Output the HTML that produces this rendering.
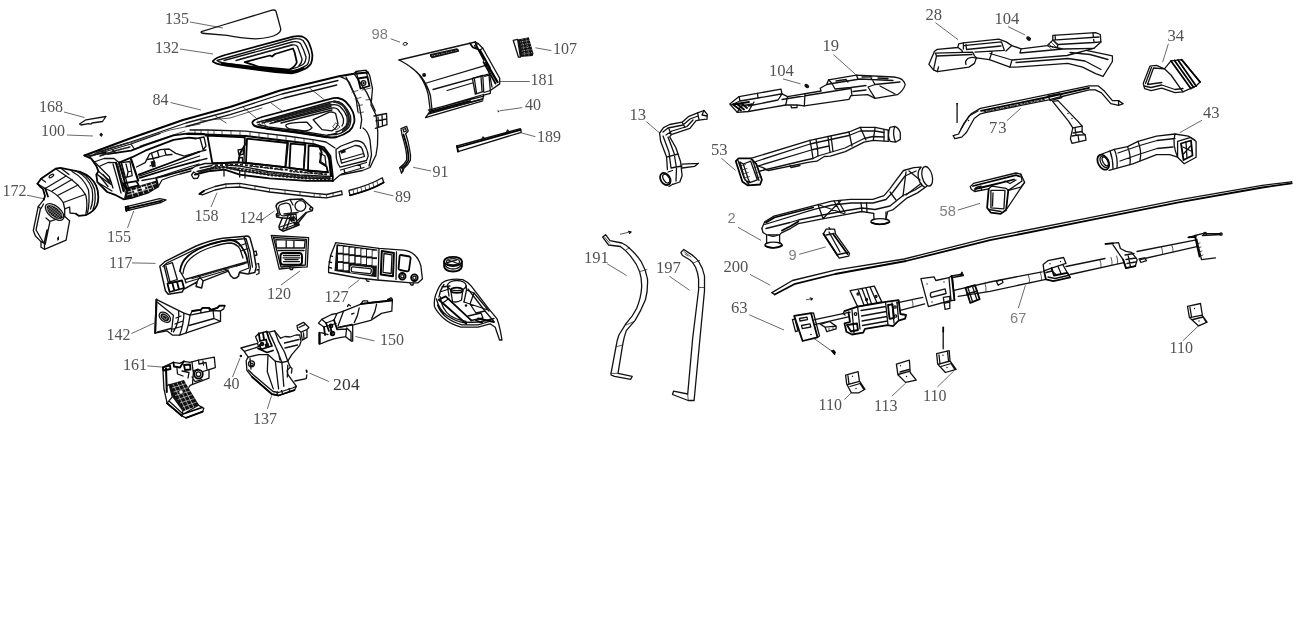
<!DOCTYPE html>
<html><head><meta charset="utf-8">
<style>
html,body{margin:0;padding:0;background:#fff;}
body{width:1307px;height:644px;overflow:hidden;font-family:"Liberation Serif",serif;}
svg{position:absolute;left:0;top:0;display:block;will-change:transform;opacity:.999;filter:blur(.35px)}
.t{font-family:"Liberation Serif",serif;font-size:16px;fill:#525252;stroke:none}
.s{font-family:"Liberation Sans",sans-serif;font-size:14.7px;fill:#808080;stroke:none}
.t2{font-family:"Liberation Serif",serif;font-size:16.6px;fill:#525252;stroke:none}
.l{stroke:#444;stroke-width:0.8;fill:none}
.p{stroke:#111;stroke-width:1.3;fill:none;stroke-linejoin:round;stroke-linecap:round}
.pt{stroke:#222;stroke-width:0.75;fill:none;stroke-linejoin:round;stroke-linecap:round}
.pb{stroke:#000;stroke-width:1.8;fill:none;stroke-linejoin:round;stroke-linecap:round}
.f{fill:#111;stroke:none}
</style></head><body>
<svg width="1307" height="644" viewBox="0 0 1307 644">
<!--LABELS-->
<g id="labels">

<text class="t2" x="822.5" y="50.5">19</text><path class="l" d="M833.5,54.6 L855.7,74.5"/>

<text class="s" x="1010" y="323">67</text><path class="l" d="M1018.3,308.2 L1025.4,285.4"/>
<text class="t" x="818.5" y="409.7">110</text><path class="l" d="M844.4,399.6 L851.3,392.8"/>
<text class="t" x="874" y="410.7">113</text><path class="l" d="M891.8,396.2 L905.6,383.2"/>
<text class="t" x="923" y="400.5">110</text><path class="l" d="M937.4,387 L953.8,371"/>
<text class="t" x="1169.5" y="352.9">110</text><path class="l" d="M1182.8,340.8 L1199.5,324.9"/>

<text class="t2" x="925.5" y="19.6">28</text><path class="l" d="M935.4,22.7 L958.1,39.7"/>
<text class="t2" x="994.5" y="23.7">104</text><path class="l" d="M1008,26.6 L1025.2,35"/>
<text class="t2" x="989" y="133.2" style="letter-spacing:1px">73</text><path class="l" d="M1006.8,120.8 L1020.7,108.4"/>
<text class="t2" x="1167.5" y="40.6">34</text><path class="l" d="M1168.4,43.7 L1162.6,62.2"/>
<text class="t2" x="1203" y="118.4">43</text><path class="l" d="M1201.9,120.3 L1179.7,132.7"/>

<text class="t2" x="584" y="263">191</text><path class="l" d="M607.2,263.8 L626.6,275.5"/>
<text class="t2" x="656" y="273.4">197</text><path class="l" d="M669.3,276.2 L689.5,290.2"/>
<text class="t2" x="723.5" y="272.4">200</text><path class="l" d="M750,274.4 L770.2,285.2"/>
<text class="t2" x="731" y="313.2">63</text><path class="l" d="M749.3,314.8 L784,330"/>
<text class="s" x="727.5" y="223">2</text><path class="l" d="M738,227.3 L761,240.4"/>
<text class="s" x="788.5" y="260">9</text><path class="l" d="M799.2,254.3 L825.8,246.9"/>
<text class="s" x="939.5" y="216">58</text><path class="l" d="M957.7,210.2 L980,203.3"/>
<text class="t2" x="769" y="75.7">104</text><path class="l" d="M783,78.9 L800.6,83.9"/>
<text class="t2" x="711" y="155.3">53</text><path class="l" d="M721.5,158.3 L735.6,170.5"/>
<text class="t2" x="629.5" y="120.3">13</text><path class="l" d="M646.4,121.7 L659.6,133"/>

<text class="t" x="106.5" y="340.3">142</text><path class="l" d="M131.4,333.6 L154.1,323.1"/>
<text class="t" x="123" y="370.3">161</text><path class="l" d="M147.2,365.9 L162.9,367.1"/>
<text class="t" x="223.5" y="388.5">40</text><path class="l" d="M232.5,377 L240,358.1"/>
<text class="t" x="333" y="389.6" style="fill:#333;font-size:17.5px;letter-spacing:.3px">204</text><path class="l" d="M309.5,373.1 L328.9,381.5"/>
<text class="t" x="253" y="423.6">137</text><path class="l" d="M267.3,409 L271.6,395.4"/>

<text class="t" x="324.5" y="302">127</text><path class="l" d="M348.2,288.4 L359.4,279.6"/>
<text class="t" x="380" y="344.9">150</text><path class="l" d="M355.4,336.5 L374.5,340.9"/>

<text class="s" x="371.5" y="39.4">98</text><path class="l" d="M390.7,38.8 L400,42.2"/>
<text class="t" x="553" y="54.4">107</text><path class="l" d="M535.4,47.8 L551.4,50.6"/>
<text class="t" x="530.5" y="84.5">181</text><path class="l" d="M499.7,81.5 L529.8,81.5"/>
<text class="t" x="525" y="109.8">40</text><path class="l" d="M499.7,110.8 L522.3,107.6"/>
<text class="t" x="537" y="142.3">189</text><path class="l" d="M521.3,132.9 L535.4,136.7"/>
<text class="t" x="432.5" y="177">91</text><path class="l" d="M413.2,167.3 L431.1,171"/>
<text class="t" x="395" y="202">89</text><path class="l" d="M373.8,191.2 L393.5,195.9"/>

<text class="t" x="165" y="23.5">135</text><path class="l" d="M190,22 L223,28"/>
<text class="t" x="155" y="52.5">132</text><path class="l" d="M180,49 L213,54"/>
<text class="t" x="152.5" y="104.5">84</text><path class="l" d="M170.5,102.5 L201,110"/>
<text class="t" x="39" y="112">168</text><path class="l" d="M64,112 L84.5,117.5"/>
<text class="t" x="41" y="136">100</text><path class="l" d="M67,135 L93,136"/>
<text class="t" x="2.5" y="196">172</text><path class="l" d="M27,195.2 L45,199"/>
<text class="t" x="107" y="242">155</text><path class="l" d="M127.5,228 L133.7,211"/>
<text class="t" x="194.5" y="221">158</text><path class="l" d="M211,207 L217,192.7"/>
<text class="t" x="239.5" y="223">124</text><path class="l" d="M263,219 L274.5,211"/>
<text class="t" x="109" y="268">117</text><path class="l" d="M132,262.9 L155.5,263.4"/>
<text class="t" x="267" y="298.5">120</text><path class="l" d="M281,285 L300,271"/>
</g>
<!--PARTS-->

<g id="p135"><path class="p" d="M201.4,31.7 L219.8,26 L272,10.2 Q275,9.6 275.9,11 L280.7,28.6 Q281,32 277,34.2 Q271,38 255.8,38.8 Q240,38 227.3,35.4 L204.9,33.5 Q200,33 201.4,31.7Z"/></g>
<g id="p132">
<path class="pb" d="M213,60.9 Q215,58 225,55 L293,36.6 Q298,35.6 302,36.5 Q307,38.5 309,43 Q312,50 312.4,55 Q312.5,60 311,63.4 Q308,68 301.8,70.2 Q296,73 291.9,73.3 Q275,72.5 259.6,70.2 L227.3,65.8 Q218,64.5 214.8,62.7 Q212.5,62 213,60.9Z"/>
<path class="p" d="M217,60.5 L293,39 Q300,38 303,40.5 Q307,46 309.5,55 Q309.5,62 307,65 Q301,69 292,71 L227,63.5 Q219,62.5 217,60.5Z"/>
<path class="p" d="M224,60.5 L292,42 Q298,41 300.5,43.5 Q304,50 306,57 Q306,62 303,64.5 Q298,67.5 291,69"/>
<path class="p" d="M236,60.5 L292,45 Q296,44.5 297.5,46.5 Q300,53 302,59 Q302,63 299,65.5"/>
<path class="pb" d="M244.7,62.1 L270,55.5 L272,56.5 L275,54 L293,48.5 L294.5,52 L296.8,62.1 Q296,66 289.4,69.6 L259.6,67 Z"/>
<path class="pb" style="stroke-width:2.6" d="M222,63.5 L259.6,68.6 Q278,71.5 291.9,72 Q298,71 303,68"/>
<path class="pt" style="stroke-dasharray:1.5 1" d="M240,59 L292,44.5"/>
</g>
<g id="p168"><path class="p" d="M79.5,124 L86,119.8 L106,116.5 L102.5,121.5 L92,123 L91,124.2 L88.5,123.6 L81,125Z"/></g>
<g id="p100"><path class="f" d="M101,132.5 L103,134.5 L101.5,137 L99.3,135Z"/></g>

<g id="p84">
<!-- top edge thick -->
<path class="pb" style="stroke-width:2" d="M84.5,155.5 L130,138.5 L183,120 L230,107 L280,90.5 L339,76.2 L354,73.7 L368,72.4"/>
<path class="p" d="M368,72.4 L369.7,75.5 L372.5,88.7 L371,105 L376,115 L377.8,132 L377.5,145 L376,155 L370,167.5 L362.5,170.5 L340,175 L333,181"/>
<path class="p" d="M339,76.2 Q347,79 349.3,82.4 L359.2,104.8 L361.7,119.7 L360.4,128.4"/>
<path class="p" d="M354,73.7 L366.6,92.4 L375.3,111"/>
<path class="p" d="M346,77 L356,98 L358,112"/>
<!-- top surface strips -->
<path class="p" d="M95,153.5 L135,140.5 L186,123 L230,111 L282,94 L338,80.5"/>
<path class="p" d="M186,126.5 L230,114.7 L284,98 L336.8,85"/>
<path class="pt" d="M200,121 L230,118 L262,108 M271,103 L282,111 M309.5,88 L324.4,99.8 M243,107 L256,118 M215,115.5 L226,123"/>
<path class="pt" d="M130,143 L170,130 L200,124 M140,146 L185,131"/>
<!-- right bracket top -->
<path class="pb" d="M358,78.5 L367.5,77 L369.5,86 L360.5,88.5Z"/><path class="p" d="M354,73.7 L356,71.5 L366,70.2 L368,72.4 M356,71.5 L358,78.5 M366,70.2 L367.5,77"/>
<circle class="p" cx="363.5" cy="83" r="2.3"/><circle class="f" cx="363.5" cy="83" r="1.2"/>
<path class="p" d="M374,116 L386.5,113.5 L387,124.7 L375.3,128.4 M378,117 L378.5,126 M382,115.5 L382.5,125.5 M376,121 L386.5,119"/>
<path class="pt" d="M362,90 L371,88 M366,100 L372,99 M352,92 L358,90.5 M355,99 L361,97.5 M357,106 L362.5,104.8 M358.5,113 L363.5,112"/>
<!-- vent recess on top -->
<path class="pb" d="M252.4,122.2 Q253,120 262,117 L329.4,99.2 Q335,97.5 338,98 Q343,99 345.5,101.5 Q351,107 353,112.2 Q355,118 354.2,122.2 Q353,127.5 349.3,131 Q344,135 336.8,137 Q332,138 327,137 L299.6,132.5 L267.3,128.4 Q257,127.5 254.8,126 Q252,124 252.4,122.2Z"/>
<path class="p" d="M257,122.5 L330,102 Q338,100.5 342,103.5 Q348,109 350.5,116 Q351.5,122 349,127 Q345,132 337,134.5 L328,134.8"/>
<path class="p" d="M262,123 L331,105 Q337,104 340,106.5 Q345,111 347,117 Q348,122 346,126 Q342,130.5 336,132"/>
<path class="p" d="M270,123.5 L332,108 Q336,107.5 338,109.5 Q342,114 343.5,119 Q344,123 342,126"/>
<path class="pt" style="stroke-dasharray:1.2 1.2;stroke-width:2.4" d="M334,101.5 Q342,103 345,108 Q349,114 349,121 Q348,127 343,131"/>
<path class="p" d="M286,124.7 Q290,122.5 307,122.2 L312,127.8 Q310,130.5 304.5,131 L289.6,129 Q285,127 286,124.7Z"/>
<path class="p" d="M313.2,119.7 L329.4,112.2 Q333,111.5 335.6,113.5 L338,123.4 Q337,128 331.9,130.9 L322,129.6 Z"/>
<path class="p" d="M266,121 L330,103.5 M275,121.5 L331,106.5 M281,123 L332,110 M258,124.5 L268,127 L300,131 L327,135.3 L337,133.2"/>
<path class="pt" style="stroke-width:1.8;stroke-dasharray:1.4 1.4" d="M268,121.5 L331,104.5"/>
<path class="pb" d="M254,125.5 L267.3,128.8 L299.6,133 L327,137.4"/>
<path class="pt" d="M262,120 L266,126 M258,121 L262,127 M336,123 L340,127 L336,130 L333,127Z"/>
<!-- front face top rail -->
<path class="p" d="M190,130 L207,130 L246,131.2 L287,136 L314.2,139.9 L326,142 L335,148"/>
<path class="pb" d="M187,134 L206,134.3 L246,136 L287,141 L314.2,144.2 L324,147.3 L330.4,156 L332.9,177 L332.5,181"/>
<path class="pt" d="M195,130 V134 M201,130 V134 M208,130 V134.5 M214,130.3 V134.7 M222,130.5 V135 M231,130.8 V135.3 M240,131 V135.8 M250,131.7 V136.5 M259,132.8 V137.5 M268,133.8 V138.6 M277,134.9 V139.7 M286,136 V140.8 M295,137.3 V142 M304,138.5 V143 M313,139.8 V144"/>
<!-- openings -->
<path class="pb" d="M207.4,135.5 L244.7,137.4 L245,144.8 L240,153.5 L238.4,162.2 L212.4,163.5 Z"/>
<path class="pb" d="M247,138.6 L288,143 L285.6,167.2 L246,162.9 Z"/>
<path class="pb" d="M290.6,143.6 L305.5,144.8 L303.7,169.7 L289.4,167.8 Z"/>
<path class="pb" d="M308.6,145.5 L319.2,146.7 L321.7,152.3 L319.8,162.2 L326.6,166.6 L327.9,172.2 L308,171 Z"/>
<path class="p" d="M238,150 L243,149 L243.5,154 L239,155 Z M238.5,158 L242.5,157.5 L242.5,163 M244.7,137.4 L244,163 M287,143 L285,167 M305,145 L303.5,169.5"/>
<path class="pb" style="stroke-width:2.4" d="M321,148 Q328,152 329.5,160 L331,176"/>
<path class="p" d="M320,153 L325,156 L326,165 L321,162Z"/>
<!-- bottom rail -->
<path class="pb" d="M212.4,163.5 L238.4,162.4 L246,163 L285.6,167.4 L303.7,169.9 L327.9,172.4"/>
<path class="pb" d="M195,174.7 L210,171 L224.8,169.7 L239.7,174.7 L269.5,178.4 L306.8,180.9 L332.9,180.9"/>
<path class="p" d="M200,168 L212,165.5 M197,171.5 L214,167.5 M226,165 L240,166 L268,171.5 L300,175 L330,176.5 M228,168 L240,170.5 L270,174.8 L305,178 L331,178.8"/>
<path class="pt" style="stroke-width:1.4;stroke-dasharray:2 1.5" d="M214,166.5 L240,168.3 L270,173 L305,176.5 L330,177.7"/>
<path class="pt" style="stroke-width:1.4;stroke-dasharray:1.5 2" d="M199,172.5 L212,169 L226,167 M250,166 L284,170 M290,171.5 L326,174.5"/>
<path style="stroke:#1a1a1a;stroke-width:2.6;stroke-dasharray:2.2 1.6;fill:none" d="M200,172 L212,168 L226,167.2 L240,170 L270,174.8 L305,178.2 L330,178.9"/>
<path style="stroke:#1a1a1a;stroke-width:1.8;stroke-dasharray:3 2;fill:none" d="M215,165.3 L238,164.5 L246,165.2 L285,169.6 L304,172 L327,174.3"/>
<path class="p" d="M193.7,172 L191.5,175 L193.5,178.5 L197.5,178.4 L199,175.5 Z M224,170 V176 M239.7,171 V177 M245,172 V178"/>
<!-- right lower pocket -->
<path class="p" d="M336,149.5 L341,146 L354.7,140.8 Q361,140.3 364,144 Q367.5,149 368.2,156 L366.5,160.5 L340,167.2 Q337,163 336.3,158 Z"/>
<path class="p" d="M339,151.8 L355,145.5 Q360,145.3 362,148.5 L364.5,156.5 L341.5,163.2 Z M341,160 L363.5,153.5"/>
<path class="f" d="M340,150.8 L345,148.8 L345.8,152.3 L341,153.8Z"/>
<path class="p" d="M340.5,170 L366.5,162.5 M341.5,174 L364,167.5 M344,169.2 L344.8,173 M360,164.6 L360.8,168.3"/>
<path class="p" d="M363,128 Q368,131 370,140 L371.5,155 L369,166"/>
<!-- left end -->
<path class="pb" d="M84.3,155.5 L90.9,158.3 L96.3,165.9 L98.5,171.3 L96.3,174.6 L97.4,182.2 L107.2,192 L115.9,195.2 L123.5,199.3 L133,197.5 L147.4,193 L158.3,186.5 L156.1,177.8 L168,175 L191.8,168.4"/>
<path class="pb" style="stroke-width:1.8" d="M98.5,150.5 L108.3,153.9 L131.1,150.7 L145.2,145.2 L173.5,135.4 L188.7,133.3 L204,133.8"/>
<path class="pb" style="stroke-width:1.8" d="M119.1,162.6 L132.2,157.2 L145.2,150.7 L173.5,139.8 L188.7,137.6 L196,138.5"/>
<path class="p" d="M86,156.5 L100,153.5 L108.3,153.9 M90.9,158.3 L109.3,176.7 L113,188 M98.5,171.3 L111.5,182.2 M97.4,174.6 L111,184.5 M97.4,182.2 L112,191 M100,166 L108,162.5 L115.9,162.6 M94,162 L104,158.5 L114,158.5 L119.1,162.6"/>
<path class="p" d="M100,176.5 L108,186.5 M103,174.5 L110,183"/>
<!-- column band -->
<path class="pb" style="stroke-width:2" d="M115.9,162.6 L119.5,176 L123.5,191 M119.1,162.6 L123,176 L127,190"/>
<path class="p" d="M113,164 L117,178 L121,193 M121.5,163 L125,176 L129,189.5"/>
<path class="pt" style="stroke-width:1.5;stroke-dasharray:1.2 1.2" d="M117.5,164 L121,178 L125.2,192"/>
<!-- pillar -->
<path class="pb" style="stroke-width:2.2" d="M131.1,159.3 L134,168 L138.2,180.5"/>
<path class="p" d="M121.3,162.6 L130,161.5 L132.2,175.7 L124.6,177.8 Z M126,164 L128,172 L131.5,171 M128,172 L127,176.8"/>
<path class="pb" d="M123.5,183.3 L136.5,181.1 L138.7,185.4 L125.7,188.7 Z"/>
<!-- dense block -->
<path class="f" d="M126,189.3 L139,185.8 L156.5,180.5 L158.3,186.5 L147.4,193 L133,197.5 L124,198.5 Z"/>
<path d="M128,192 L156,183.5 M127,195 L152,188 M131,188.5 L133,197 M136,187 L138.5,195.5 M141,185.5 L144,194 M146,184 L149,192 M151,182.5 L154,189.5" stroke="#fff" stroke-width=".7" fill="none"/>
<rect x="141.5" y="186.8" width="3.5" height="3" fill="#fff" transform="rotate(-16 143 188)"/>
<rect x="134" y="190" width="3" height="2.6" fill="#fff" transform="rotate(-16 135 191)"/>
<!-- cross beam -->
<path class="pb" d="M138.7,174.6 L170,163 L199.6,151.7 M139.8,177.8 L170,168.5 L199.6,160.4"/>
<path class="p" d="M156.1,177.8 L188.7,167 L199,164 M139,176.2 L199.6,156 M142,180.5 L156.1,177.8"/>
<!-- window inner outline -->
<path class="p" d="M136.5,167 L145.2,162.6 L149.6,153.9 L160.4,149.6 L169.1,149 L175.7,153.4 L184.3,156.1 L199.6,151.7"/>
<path class="p" d="M151.5,153.2 L153,158.5 L159,157 L157.5,151 M159,157 L166,155 L164.5,149.5 M166,155 L172,154.5 M147,159.5 L153,158.5 L155,163 L150,166"/>
<path class="f" d="M150.5,161.5 L154.5,160.5 L156,166.5 L152,167.5Z"/>
<!-- tip details -->
<path class="pt" style="stroke-width:1.6;stroke-dasharray:1.5 1.2" d="M97,152.5 L112,147.5 L128,143 M100,156 L116,150.5 L130,147"/>
<path class="p" d="M90,156.5 L112,149.5 L131,144 L160,133.5 M131,144 L134,148.5 M112,149.5 L116,153"/>
<!-- junction to openings -->
<path class="p" d="M196,138.5 L204,137 L206,146 L203,150 M204,133.8 L206,136 L207.4,135.5 M200,138 L203,149 M191.8,168.4 L196,166 L205,163.5 L212,163.5 M199.6,151.7 L206,150 M199.6,160.4 L207,158.5"/>
<path class="p" d="M158.3,186.5 L162,180 L170,177 L180,174 L191,171"/>
</g>
<g id="p158">
<path class="p" d="M199.3,193.9 L204,190.5 L215,186.5 L226,184 L239.7,183.4 L269.5,188.3 L314.2,193.3 L326.6,194.5 L341.6,190.8 L342.2,194.5 L326.6,197.8 L314.2,197 L269.5,192 L239.7,187 L226,187.7 L215,190 L202.4,194.8 Z"/>
<path class="pt" d="M226,184 V187.7 M239.7,183.4 V187 M255,186 V189.6 M269.5,188.3 V192 M285,190 V193.8 M300,191.7 V195.4 M314.2,193.3 V197 M320,194 V197.4 M326.6,194.5 V197.8 M333,193 V196.6"/>
<path class="pb" d="M199.5,194 L204,191"/>
</g>

<g id="p172">
<path class="pb" d="M37.5,183.7 L41,178.8 L55.6,168.7 L60.5,167.9 L80,171.8 Q86,174 89.9,177.4 Q94,181 96.2,185.8 Q98.5,191 98.3,196.9 Q98.3,202 96.9,205.3 Q95,209 92.7,210.9 Q89,214 85.7,215.1 L78.7,215.8 L75.9,213.7"/>
<path class="p" d="M37.5,183.7 L45.2,188.5 L66.1,176 L55.6,168.7 M41,178.8 L45.5,182 M60.5,167.9 L69,174.5"/>
<ellipse class="p" cx="51.4" cy="176" rx="2.6" ry="1.1" transform="rotate(-32 51.4 176)"/>
<path class="p" d="M45.2,188.5 Q57,193 63.3,202.5 L64.7,208.8 L64.7,216.5 M66.1,176 Q78,183 85.7,194.8 Q88,204 85.7,215.1"/>
<path class="p" d="M63.3,202.5 L85,194.5 M64.7,208.8 L69.6,207 L70,213 L75.9,213.7 M52,191 L72,179.5 M57.5,195.5 L78,185"/>
<path class="p" d="M76,171 Q88,177 92,189 Q94,200 90.5,209 M72,171.5 Q84,178 88.5,190 Q90,202 87.5,213 M80,171.8 Q91,178.5 94.5,189 Q96.5,201 93,209.5"/>
<path class="p" d="M43.8,199.7 L38.2,206.7 L33.3,230.5 L35.4,236 L41,241.6 L41,247.2 L44.5,249.3 L66.1,240.2 L69.6,220.7 L64.7,216.5"/>
<path class="p" d="M40.5,208.5 L36,230 L44,243.5 L47,230 M50,221.4 L45.2,244.4 M50,221.4 L64.7,216.5 M50,221.4 L46,218 M41,241.6 L44.5,243.5 L44.5,249.3 M38.2,206.7 L41,208.5 L43.5,204"/>
<path class="pb" d="M37.5,183.7 Q40,187 43,189 L45,196 L43.8,199.7 M45.2,188.5 L48,196.5"/>
<path class="f" d="M57,238 L59,236 L59,239.5 L57.5,241Z"/>
<ellipse class="f" cx="54.6" cy="212" rx="9.6" ry="4.6" transform="rotate(40 54.6 212)"/>
<ellipse class="p" cx="54.6" cy="212" rx="11" ry="5.8" transform="rotate(40 54.6 212)"/>
<g transform="rotate(40 54.6 212)" stroke="#fff" stroke-width="0.3" fill="none"><path d="M46,210 H63 M46,212 H63 M46,214 H63 M48,208 V216 M50.2,208 V216 M52.4,207.5 V216.5 M54.6,207.5 V216.5 M56.8,207.5 V216.5 M59,208 V216 M61.2,208 V216"/></g>
</g>
<g id="p155">
<path class="p" d="M125.5,206.8 L159.7,198.6 L166,199.9 L161.1,202.5 L126.2,210.9 Z"/>
<path class="pb" d="M126,208.8 L162,200.6"/>
<path class="pb" style="stroke-width:2" d="M125.8,207 L126.4,210.7 M128,206.4 L128.6,210"/>
</g>

<g id="p117">
<path class="p" style="stroke-width:1.5" d="M159.8,266.2 L165.4,261.3 L196.1,246 Q210,240.5 222.7,238.3 L247.8,235.9 L249.9,237.6 L253.4,250.2 L256.2,266.9 L254.8,272.5 L247.8,273.9 L239.4,272.5 L238.5,276 Q236,279 233,278 Q230,276 228.3,271.1 L203.1,280.9 L201.7,287.9 L196.1,286.5 L197,282 L183.5,289.3 L182.1,292.1 L168.2,294.2 L165.4,290.7 Z"/>
<path class="p" d="M163,266.5 L167,263 L197,248.5 Q210,243 223,241 L246,238.5 L250,252 L252.5,267 M244,237 L248,252 L250.5,268 L249,273"/>
<path class="pb" d="M180,271.1 Q181,262 188,256 Q196,249 210,244.5 Q222,240.5 230,240 Q237,240.5 241,246 Q245,251 246.4,256 L247.8,262"/>
<path class="p" d="M184.9,279.5 L246.4,262 M186,282.5 L228,270 M184.9,279.5 L186,283 M180,271.1 L184.9,279.5 M183,273.5 Q184,264 191,258 Q199,251 212,247 Q224,243 231,243 Q237,244 240,249 L243,258"/>
<path class="pt" style="stroke-width:1.3;stroke-dasharray:1.5 1.2" d="M192,278.5 L244,263.8"/>
<path class="p" d="M164,265.5 L172.4,262.7 L177.3,279.5 L168.2,282.3 Z M166,266.5 L170,282"/>
<path class="pb" d="M167.5,283.7 L182,280.5 L184,288 L169.6,292 Z M172.3,282.7 L174.3,290.5 M177,281.6 L179,289.5"/>
<path class="p" d="M239,246 L246,243.5 M241,251 L248,248.5 M236,266 L248,262.5 L249,268 L240,271.5 M254,251.6 L256,251 L257,255 L255,255.5 M256.8,264 L258.5,263.5 L259.2,268 M257,270 L259,269.5 L259,273.5 L256.5,274.5"/>
<path class="p" d="M203.1,280.9 L198,275.5 M228.3,271.1 L224,268.5 M197,282 L200,276"/>
</g>
<g id="p120">
<path class="p" d="M271.3,235.5 L308.6,237.6 L307.2,266.9 L293.9,267.6 L279.3,269 Z"/>
<path class="p" d="M273.5,237.5 L306.5,239.3 L305.3,265 L281,267 Z"/>
<path class="p" d="M275.8,239.7 L305.1,240.7 L304.4,248 L276.5,248 Z M286.2,240 V248 M293.9,240.3 V248"/>
<rect class="pb" style="stroke-width:1.9" x="280.5" y="253" width="21.5" height="11.8" rx="3"/>
<path class="p" d="M283.5,255.5 H299.5 M283,257.8 H300 M283.5,261.6 H299.5 M285,259.7 H298"/>
<path class="p" d="M278,250.5 H304 M289.7,267.6 L290.5,269.7 L292.5,269.7 L293,267.6"/>
</g>
<g id="p124">
<path class="p" style="stroke-width:1.5" d="M276,206 Q276.5,203.5 279.5,202.2 L290,199.4 L302.5,199 L308,204 L311,206.8 L312.7,208.2 L312.3,210.6 L306.7,212.4 L298.3,222.8 L299,225 L294,227 L283,231.2 L279.5,229 L279,226.3 L282.3,218 L276.7,216.9 L276.3,214.5 L278,212.4 Z"/>
<rect class="p" x="279" y="203.5" width="12" height="12" rx="4" transform="rotate(-12 285 209.5)"/>
<circle class="p" cx="300.4" cy="206" r="5.4"/>
<path class="p" d="M286,215.5 L296,214 L297,225 M288,216 L283,229 M291,216 L286.5,229 M293.5,216 L299,224.5 M282.3,218 L292,218.5 M306,212.5 L295,223"/>
<path class="p" d="M280,227 L295,222 M282,229.5 L297,224 M284,214 L298,212.5 M290,199.5 L293,205 M311,206.8 L309.5,209 L311.5,210.5"/>
<path class="f" d="M288.5,217 L294,216.3 L295,221 L291,222 Z M293,222.5 L297.5,221.5 L298,225 L294.5,226Z"/>
<circle class="p" cx="278" cy="214.8" r="1.2"/>
</g>

<g id="p98"><ellipse class="p" style="stroke-width:.9" cx="405.2" cy="43.9" rx="2.2" ry="1.4" transform="rotate(-10 405.2 43.9)"/></g>
<g id="p107">
<path class="f" d="M517.6,39.4 L528.8,37.3 L533.5,53.8 L532.6,56.1 L520.4,57 Z"/>
<path class="p" d="M513.2,40.3 L517.6,39.4 L520.4,57 L518.5,57.2 Z"/>
<path d="M520,42 L530,40.2 M520.7,45 L531,43.2 M521.3,48 L531.8,46.2 M521.8,51 L532.6,49.4 M522.3,54 L533,52.4 M522,39 L525,56.5 M526,38.2 L529,56" stroke="#fff" stroke-width=".5" fill="none" stroke-dasharray="1.2 1"/>
</g>
<g id="p40a"><path class="f" d="M497.4,110.2 L499.6,111 L498,112.6Z"/></g>
<g id="p181">
<path class="p" d="M399.1,60 L475.3,42 L478.1,43.5 L482.8,48.2 L499.7,78.3 L499.7,83.9 L490.3,90.5 L490.3,93.3 L483.7,95.2 L482.8,98.9 L428.3,114 L425.5,117.7 L482.8,100.8"/>
<path class="p" d="M399.1,60 Q411,66 418.9,74.5 Q426,84 428.3,95.2 L430.2,110.2 L428.3,114 M402,61.5 Q414,68 421,76.5 Q428,86 430.5,96 L432,109.5"/>
<path class="pb" style="stroke-width:2.6" d="M431.5,56 L457.4,50.3"/>
<path class="pt" style="stroke:#fff;stroke-width:.6;stroke-dasharray:1 1.4" d="M432,56 L457,50.5"/>
<path class="p" d="M430.5,54.6 L457,48.8 L458.5,51 L432,57.5Z"/>
<circle class="f" cx="424.1" cy="75.1" r="2"/>
<path class="p" d="M426.4,83 L486.5,65.1 M433,89.5 L490.3,73.6 M447.1,90.5 L472.4,83"/>
<path class="p" d="M472.4,78.3 L482.8,75.5 L483.7,91.4 L475.3,94.2 Z M474.5,79.5 L476.5,93 M484.7,76.4 L489,75 L490.3,90.5 M481,77 L482,91"/>
<path class="pb" style="stroke-width:2.4" d="M486,62.5 L497.5,82"/>
<path class="pb" d="M483.5,62 L495.5,83.5 M475.3,42 L477,47 L484,60 M470,43.5 L473,47.5 L480,50 L490,68"/>
<path class="p" d="M478.1,43.5 L474.5,45.5 L476,48.5 M482.8,48.2 L479,50.5 M488,66 L492,87 M490.3,90.5 L484,92.5"/>
<path class="p" d="M428.3,110.2 L483.7,96.1 M430,112.5 L483,99 M432,109.5 L483.5,94.5"/>
<path class="pb" d="M430,111.3 L470,101"/>
<path class="pt" d="M436,108.5 L437,111 M444,106.5 L445,109 M452,104.5 L453,107 M462,102 L463,104.5"/>
</g>
<g id="p189">
<path class="p" d="M457,146 L520.4,128.6 L521.3,132.3 L458,151.7 Z"/>
<path class="pb" d="M457.5,147.5 L520.6,129.8 M457,146 L458,151.7"/>
<path class="p" d="M482,139 L483,137 L484.5,138.4 M506.5,132.2 L507.5,130 L509,131.6"/>
</g>
<g id="p91">
<path class="p" d="M401,128.6 L406.6,126.3 L408.2,131 L405.7,133.8 Q408.5,142 409.5,148.9 Q411,155 410.4,160.1 Q408,165 403.8,168.6 L401.6,173.3 L399.7,167.7 Q405,164 406.6,160.1 Q407,155 405.7,148.9 Q404,141 402,134.8 Z"/>
<path class="pb" d="M403.5,134.5 Q406,142 407.5,149 Q409,156 408.3,160.5 Q406.5,164.5 402,168"/>
<path class="p" d="M403,129.5 L405.5,128.5 L406.3,131 L404,132Z M399.7,167.7 L401.5,166.5 L403.2,171"/>
</g>
<g id="p89">
<path class="p" d="M349,190.5 Q370,185 382.3,177.8 L383.7,182.5 Q371,190 350,195.3 Z"/>
<path class="pt" d="M353,189.5 L354,194.3 M357,188.5 L358,193.3 M361,187.4 L362,192.2 M365,186.2 L366,191 M369,185 L370,189.6 M373,183.2 L374,188 M377,181.2 L378.2,185.8"/>
<path class="pb" d="M350,195.3 Q371,190 383.7,182.5"/>
</g>

<g id="p127">
<path class="p" d="M335.7,242.7 L379,248.3 L403.2,250.2 Q410,251 414.4,254.8 Q419,259 420.9,266 L422.4,279 L418.1,282.8 L411.6,282.8 L377.1,280 L358.5,278 L328.6,272.5 L328.6,267 L330.5,255.8 Z"/>
<path class="f" d="M336.5,244.3 L377.3,249.5 L376.5,277.3 L334.5,271 Z"/>
<rect x="338.0" y="246.2" width="4.7" height="6.5" fill="#fff"/><rect x="343.7" y="246.9" width="4.7" height="6.5" fill="#fff"/><rect x="349.6" y="247.7" width="4.7" height="6.5" fill="#fff"/><rect x="355.7" y="248.4" width="4.7" height="6.5" fill="#fff"/><rect x="361.4" y="249.2" width="4.7" height="6.5" fill="#fff"/><rect x="367.0" y="249.9" width="4.7" height="6.5" fill="#fff"/><rect x="372.5" y="250.7" width="4.7" height="6.5" fill="#fff"/><rect x="338.0" y="254.6" width="4.7" height="6.5" fill="#fff"/><rect x="343.7" y="255.3" width="4.7" height="6.5" fill="#fff"/><rect x="349.6" y="256.1" width="4.7" height="6.5" fill="#fff"/><rect x="355.7" y="256.9" width="4.7" height="6.5" fill="#fff"/><rect x="361.4" y="257.6" width="4.7" height="6.5" fill="#fff"/><rect x="367.0" y="258.4" width="4.7" height="6.5" fill="#fff"/><rect x="372.5" y="259.1" width="4.7" height="6.5" fill="#fff"/><rect x="338.0" y="263.0" width="4.7" height="6.5" fill="#fff"/><rect x="343.7" y="263.8" width="4.7" height="6.5" fill="#fff"/>
<rect x="350" y="266.5" width="22.5" height="7.3" rx="2" fill="#fff" transform="rotate(6 361 270)"/>
<rect class="p" x="351.3" y="267.7" width="20" height="5" rx="1.5" transform="rotate(6 361 270)"/>
<path class="pb" style="stroke-width:2" d="M381.8,251 L393.9,253 L393,276.3 L380.8,274.4 Z"/>
<path class="p" d="M384,253.5 L392,254.8 L391.2,273.5 L383,272.3Z M379,248.3 L378,280"/>
<path class="pb" d="M401,255 L409.5,256.5 Q410.8,257 410.6,258.5 L409,270 Q408.6,271.6 407,271.4 L400,270 Q398.4,269.6 398.6,268 L399.6,256.2 Q399.8,254.8 401,255Z"/>
<circle class="pb" cx="402.3" cy="276.3" r="3.3"/><circle class="p" cx="402.3" cy="276.3" r="1.6"/>
<circle class="pb" cx="414.4" cy="277.7" r="3.3"/><circle class="p" cx="414.4" cy="277.7" r="1.6"/>
<path class="p" d="M396.5,252 L396,279.5 M330.5,255.8 L332.5,256.3 M329,262 L331.5,262.5 M329,267.5 L331.5,268 M366,279 L367,281 L369,281.3 M410,283 L411,285 L413,285 L413.5,283"/>
</g>
<g id="pknob">
<ellipse class="pb" cx="453" cy="261.4" rx="8.9" ry="4.6"/>
<ellipse class="p" cx="453" cy="261.8" rx="6.6" ry="3.1"/>
<path class="pb" d="M444.1,261.4 V266.5 Q445,271.3 453,271.5 Q461,271.3 461.9,266.5 V261.4"/>
<path class="p" d="M444.5,264.5 Q447,269 453,269 Q459,269 461.5,264.5 M448,260 L458,263.5 M447.5,262.5 L457,259.8"/>
</g>
<g id="pbase">
<path class="p" d="M448.2,280.2 Q455,278.5 462.7,279.7 Q468,282 471.3,286.2 L488.4,308.4 L496.9,318.6 Q499,324 500.3,330.6 L502,340 L499.5,340 L495.2,327.2 L490,323.8 L478.1,327.2 L461,327.2 Q450,324 443.9,318.6 Q437,312 434.5,306.7 Q433.5,299 437.1,291.3 Q439,286 442.2,282.7 Q445,281 448.2,280.2Z"/>
<path class="p" d="M437.5,305 Q440,312 446,317 Q452,322 462,324.8 L478,324.8 L491,321 M436.5,299 Q439,310 447,315.5 Q455,321 463,322.5 L480,322 L494,318.5"/>
<ellipse class="p" cx="456.8" cy="285.6" rx="9.4" ry="5.1"/>
<ellipse class="pb" cx="456.8" cy="290.2" rx="6" ry="2.6"/>
<path class="p" d="M450.8,290.4 L452.5,301.5 M462.8,290.4 L461.5,300 M447.4,286 L449,296 M466.2,286 L466.5,290 L474,293 L470,304 M466.5,290 L464,302 M452.5,301.5 Q457,303 461.5,300"/>
<path class="pb" d="M438.8,299.8 L466.2,323.8 M445.6,296.4 L471.3,320.3 M438.8,299.8 L445.6,296.4"/>
<path class="p" d="M442,303.5 L449,298.5 M464,302 L488,310 M470,304 L476,313 L485,311 M468,316 L481,313 L483,318 L471,320.5 M474,293 L489,311"/>
<path class="pb" d="M478,318.5 L494,322 M476,320.5 L482,322.5"/>
<circle class="f" cx="466" cy="305.5" r="1.3"/>
<path class="p" d="M440,292 L449,289 M442,287 L450,286 M468,289 L485,311 L493.5,321 M440.5,297 Q441.5,309 450,315.5 Q457,320 466,321.3 M444,284.5 Q440,290 439,297"/>
</g>
<g id="p150">
<path class="p" d="M343.5,311.2 L360.9,304.1 L363,300.9 L367.4,300.9 L368.5,303 L387,300.9 L388,299.2 L392.4,300.3 L391.8,311.2 L381.5,313.4 L370.7,320.4 L353.3,324.8 L340.2,327"/>
<path class="pb" d="M361,304 L368.5,303 L387,301 L392,300.5"/>
<path class="p" d="M359.2,307.9 Q358,316 354.3,322.6 M376.6,304.1 Q375.5,312 371.7,318.3"/>
<path class="f" d="M351,313.6 L354.2,312.5 L354.6,313.8 L351.4,314.9Z"/>
<path class="p" d="M318.5,323.2 L321.7,319.3 L331.5,314.5 L337,313.4 L343.5,311.2 L341,318 L338,326 M321.7,319.3 L326,323 L334,320 L337,313.4 M318.5,323.2 L324,327 L336,323.5"/>
<path class="pb" d="M324,327 L325,335 M330,325 L332,334 M334,320 L337,329 M326,323 L329,331"/>
<circle class="pb" cx="332.5" cy="333.5" r="1.8"/><circle class="pb" cx="331" cy="326" r="1.5"/>
<path class="pb" style="stroke-width:2.4" d="M319.5,333 V343.5"/>
<path class="p" d="M319.6,343.8 L321.7,343.3 Q334,338 345.7,336.7 L351.1,341.1 L352.7,341.1 L352.7,324.8 M321,332.5 L328,334.5 M345.7,336.7 L346.7,328 M338,327.5 L352,324.5 M346.7,328 L351,332 L351.1,341.1 M337,329.5 L346.5,329"/>
<path class="p" d="M347.5,306.5 L348.5,304.5 L350.5,305.8 M389,298.8 L391,297.8 L392.5,299.5"/>
</g>

<g id="p142">
<path class="pb" style="stroke-width:2" d="M156.6,299.4 L155.2,333"/>
<path class="p" d="M156.2,299.4 L183.9,313.1 L190.1,315.2 L192.2,311 L200.6,309.9 L202.7,307.8 L209,307.8 L211.1,309.9 L217.4,307.8 L219.5,305.7 L224.7,305.7 L223.7,308.9 L220.5,311 L220.5,321.4 L192.2,330.9 L179.7,335.1 L172.3,335.1 L167.1,330.9 L154.9,333 Z"/>
<path class="p" d="M157.7,302.6 L173.4,315.2 L171.5,331.5 M157.7,331.9 L171,328.5 M178.6,311 Q180,321 173.4,331.9 M183.9,313.1 Q184,323 179.7,335.1 M190.1,315.2 Q189,324 186,333 M176,318 L181,316 M175,324 L183,321 M173,329 L181.5,326.5"/>
<path class="p" d="M190.1,315.2 L213,310.5 L220.5,311 M189,325.5 L214,318.5 L220.5,321.4 M213,310.5 L214,318.5 M209,307.8 L209.5,311 M200.6,309.9 L201,313"/>
<path class="pb" d="M192.2,311 L200.6,309.9 L202.7,307.8 L209,307.8 L211.1,309.9 L217.4,307.8 L219.5,305.7 L224.7,305.7"/>
<ellipse class="f" cx="164.8" cy="317.3" rx="4.8" ry="3" transform="rotate(38 164.8 317.3)"/>
<ellipse class="p" cx="164.8" cy="317.3" rx="6.4" ry="4.2" transform="rotate(38 164.8 317.3)"/>
<ellipse cx="164.8" cy="317.3" rx="2.6" ry="1.5" transform="rotate(38 164.8 317.3)" fill="none" stroke="#fff" stroke-width=".5"/>
</g>
<g id="p161">
<path class="p" d="M162.9,367.1 L173.4,362.3 L179.7,363.4 L183.9,361.3 L190.1,362.3 L198.5,360.2 L214.3,357.1 L215.3,367.6 L209,369.7 L209,378.1 L198.5,382.2 L190.1,385.4 L188,388.5 L198.5,405.3 L203.8,408.4 L202.7,411.6 L186,417.9 L181.8,415.8 L167.1,403.2 L163.9,388.5 L162.9,368.6 Z"/>
<path class="pb" style="stroke-width:2" d="M166,368.5 L166.8,392"/>
<path class="pb" d="M163,367.5 L170,365.5 L170.5,369 L163.5,370.5 Z M173.4,362.3 L174,366.5 L180,367.5 L183.9,361.3 M184,365 L190,364.5 L190.5,369.5 L185,370 Z"/>
<path class="p" d="M192,362 L193,371 L198,369 M198.5,360.2 L199,364 L206,362.5 L207,369 M203,361 L203.5,365 M209,369.7 L203,371.5 M182,371 L189,372.5 L188,378 M177,368.5 L177.5,374 L183,376"/>
<circle class="pb" cx="198.5" cy="374.2" r="4.3"/><circle class="p" cx="198.5" cy="374.2" r="2.3"/>
<path class="p" d="M192,377 L195,381.5 L202,379.5 M193.5,371 L192.5,384"/>
<path class="f" d="M169.2,384.3 L183.9,380.1 L198.5,405.3 L182.8,411.6 L172.3,396.9 Z"/>
<g stroke="#fff" stroke-width=".55" fill="none"><path d="M172,388 L186.5,383.5 M173.5,392 L188.5,387.5 M175,395.5 L190.5,391 M177.5,399.5 L192.5,394.5 M180,403 L194.5,398.5 M182.5,407 L196.5,402 M173,384 L186,410.5 M177,382.5 L190,409 M181,381.5 L194,407.5"/></g>
<circle cx="181" cy="392" r="2.2" fill="#fff" stroke="#111" stroke-width=".8"/>
<path class="p" d="M167.1,403.2 L172.3,396.9 L169.2,384.3 L166.8,386 M182.8,411.6 L181.8,415.8 M198.5,405.3 L186,412.5 M169,401 L182,413"/>
<path class="pb" d="M183,414 L202,407.5 M186,417.9 L202.7,411.6"/>
<path class="pb" style="stroke-width:1.8" d="M167.1,403.2 L181.8,415.8"/>
</g>
<g id="p40b"><circle class="f" cx="240.9" cy="356" r="1.3"/></g>
<g id="p204"><path class="p" d="M294.9,381 L306.3,378.6 L306.8,375"/><path class="pb" d="M306.5,370.3 L306.8,372"/></g>
<g id="p137">
<path class="p" d="M297,325.6 L303.6,322.3 L308.9,327.5 L307,329.5 L307,337.4 L302.3,340.1 L301,332.2 L297.7,329.5 Z M301,332.2 L307,329.5 M299,327.5 L304.5,324.8 M303.5,333 L304,339"/>
<path class="p" d="M240.9,348 L257.4,343.4 L258.8,346.7 L244.2,351.3 Z M244.2,351.3 L248.2,357.2"/>
<path class="p" d="M280.5,338.1 L285,336.5 L290,337 L296,335 L299.7,334.8 L301,341.4 L299.7,345.4 L291.8,354.6 L287.8,361.2 L290.4,367.1 L287.1,370.4 L287.8,374.4 L296.4,386.3 L294.4,390.2 L278.6,395.5 L272,394.2 L252.2,377 L246.9,370.4 L246.2,360.5 L248.2,357.2 L258.8,354.6"/>
<path class="p" d="M274.6,330.8 L268.7,332.2 L266.7,331.5 L258.8,333.5 L255.5,336.8 L258.1,342.7 M274.6,330.8 L280.5,338.1"/>
<path class="pb" d="M252.2,377 L272,394.2 L278.6,395.5 L294.4,390.2"/>
<path class="p" d="M248.5,370 L253.5,375 L273,391.5 L278.5,392.5 L292.5,388 L296.4,386.3 M250,358.5 L251,369"/>
<path class="p" d="M269.3,332.8 L273.3,341.4 L278.6,353.3 L279.9,359.9 M274.6,330.8 L278.6,341.4 L284.5,352 L287.8,361.2 M271.5,337 L276,347.5 L281.9,362.5"/>
<path class="p" d="M268,354.6 L267.3,371.8 L273.3,388.9 M275.3,361.2 L278.6,388.9 M281.9,362.5 L283.8,386.3 M287.8,365.2 L287.3,377"/>
<path class="p" d="M258.8,354.6 L268,354.6 L275.3,361.2 L281.9,362.5 L287.8,361.2 M284.5,343 L299,339.5 M285,348 L297.5,345"/>
<circle class="p" cx="251.5" cy="363.8" r="3"/><circle class="p" cx="251.8" cy="364.5" r="1.3"/>
<path class="pb" d="M258.8,333.5 L260,341 L266,339.5 L268,347 L261,349.5 L259.5,345 M263,333 L264,339.5 M266.7,331.5 L269,339 L272,346 L268,347 M258,348.5 L267,352.5 L273,350.5"/>
<path class="f" d="M264.5,344 L268.5,343 L269.5,347.5 L265.5,348.5Z"/>
<circle class="pb" cx="262" cy="344" r="1.3"/>
<path class="p" d="M277,394.5 L277.5,392 M281.5,390.5 L282.5,393.5 M289,388.5 L290,391.3 M290.4,367.1 L292,368.5 L291.5,373"/>
</g>

<g id="p191">
<path class="p" d="M602.7,237.1 L605.6,234.7 L610,240.6 L621.9,243 Q626,245 629.2,248 Q636,254 641,261.3 Q646,270 647.5,279 Q648,290 645.5,299.6 Q641,311 635.1,320.3 L626.3,330.6 Q624,337 622.8,343.9 L618,373.4 L632.2,376.4 L630.7,379.3 L614.5,376.4 L611,375 L611,373.4 L616,346.8 Q617,340 618.9,335 L626.3,323.2 Q633,316 636.6,308.5 Q641,298 641.6,287.8 Q642,279 639.6,271.6 Q637,264 632.2,258.3 Q627,251 620.4,246.5 L608.6,245 Z"/>
<path class="pt" d="M626.3,249.8 L629.5,247.5 M639.6,271.6 L646.9,269.6 M626,325 L634,321.5 M616,346.8 L622.8,345 M604.5,237 L609.5,243 M611,373.4 L618,373.4"/>
<path class="pt" d="M620.4,234.2 L629,232.2"/><path class="p" d="M628.5,231.3 L631,232 L629.5,233.3"/>
</g>
<g id="p197">
<path class="p" d="M680.9,252.4 L683.8,249.5 L692.7,255.4 Q696,258 698.6,261.3 Q703,268 704.5,276 L704.5,290.8 L700,338 L694.1,400.5 L688.2,400.5 L672.5,394.5 L673.5,391.1 L687.7,394 L692.7,338 L698.6,290 L698.6,279 Q698,273 695.6,267.2 Q693,262 689.7,259.8 L682.5,255.5 Z"/>
<path class="pt" d="M684,251.5 L691,257 M685,254 L688,256 M693,263 L699.5,260.5 M698.6,287.5 L704.5,287.5 M687.7,394 L688.2,400.5"/>
</g>
<g id="p2">
<path class="p" d="M761.9,228.3 L764.7,221.7 L774,216.1 L813.2,205.9 L831.8,201.2 L850.4,199.4 L872.8,199.4 L884,195.6 L889.6,189.1 L895.1,181.7 L903.5,170.5 L913.8,167.7 L921,167.2"/>
<ellipse class="p" cx="927.2" cy="176.3" rx="5" ry="10" transform="rotate(-14 927.2 176.3)"/>
<path class="p" d="M921,167.2 Q917,171 918.5,178 Q920,185 925,187.3 M926.8,186.3 L917.5,192.9 L906.3,198.4 L893.3,209.6 L887.7,211.5 L886,218 M873.7,213.4 L861.6,211.5 L846.7,214.3 L822.5,218.9 L798.3,223.6 L790.8,228.3 L781.5,232.9 L779.6,234.8 L779.6,243 M766.6,234.8 L766.6,243.2 M761.9,228.3 L763,232.5 L766.6,234.8 L779.6,234.8"/>
<ellipse class="p" cx="773.5" cy="245" rx="8.6" ry="2.8"/><path class="pb" d="M765.5,246 Q773,250 782,245.5"/>
<ellipse class="p" cx="880.2" cy="221.5" rx="9.3" ry="2.8"/><path class="pb" d="M871.5,222.5 Q880,226.5 889.5,222"/>
<path class="p" d="M873.7,213.4 L874,219.5 M886,211.8 L886,219.5 M768.5,235 Q773,237.5 778,235"/>
<path class="p" d="M764.7,224.5 L813.2,209.6 L832,205 L851,203 L873,203 L886,199.5 L893,192 L905,176 L916,171 M766,228.5 L790,222.5 L798.3,220 L822.5,215 L846.7,210.5 L862,208 L875,209.5 L890,206 L903,195.5 L915,190 L922,185.5"/>
<path class="p" d="M818,204.5 L823,218.5 M818,204.5 L845,214 M823,218.5 L841,200.5 M834,201 L841,213 M838,200.5 L845,212.5 M861,203 L862,211.5 M866.5,203 L867,212 M906,172 L903,196 M909,171 L920,180 M906,195 L921,183.5 M890,192 L896,200"/>
<path class="pb" d="M766,222.5 L774.5,217.5 L813.2,207.5 M782,230.5 L790.8,226 L798.3,221.5"/>
</g>
<g id="p9">
<path class="p" d="M823.4,233.8 L826.2,229.2 L834.6,229.2 L835.5,233.8 L849.5,253.4 L848.6,256.2 L839.2,258.1 L837.4,255.3 Z"/>
<path class="pb" d="M833.5,234.5 L847.5,254 M823.4,233.8 L837.4,255.3"/>
<path class="p" d="M826,235 L834,233.5 M829,232 L840,252 M838,254.5 L848,252.5 M829,227.5 L830,229.2"/>
</g>
<g id="p104a"><ellipse class="f" cx="806.8" cy="86" rx="2.6" ry="1.9" transform="rotate(35 806.8 86)"/></g>
<g id="p19">
<path class="p" d="M729.8,104 L739.1,96.6 L781,89.1 L782,93.8 L787.6,96.6 L821.1,91 L820.2,88.2 L826.7,84.5 L828.6,79.8 L856.5,75.2 L893.8,77 Q901,78 903.1,80.7 Q905.5,83 905,85.4 Q903,91 897.5,94.7 L875.1,98.4 L867.7,94.7 L850.9,95.6 L849,99.4 L804.3,105.9 L796.9,105 L785.7,105 L748.4,111.5 L737.3,112.4 Z"/>
<path class="p" d="M739.1,96.6 L740,101 L758,98 L757.5,93.5 M740,101 L731,105 M758,98 L781,94 M748.4,111.5 L754,102 M737.3,112.4 L741,106 L752,104 M782,93.8 L778,100 L748.4,106 M787.6,96.6 L785.7,105 M805,93.8 L804.3,105.9 M782,99.5 L850,88.5"/>
<path class="pb" d="M733,104.5 L741,110.5 M737,104 L744,109.5 M741,103 L747,108 M733,104.5 L749,102"/>
<path class="p" d="M828.6,79.8 L832,83.5 L860,79 L893,80.5 M826.7,84.5 L832,83.5 M832,83.5 L835,89 L850.9,87.5 L852,95.5 M856.5,75.2 L858,79 M870,76 L875,84.5 L868,87 L875.1,98.4 M875,84.5 L900,82 M880,86 L895,94 M836,81 L846,79.5 L848,82 M850.9,87.5 L866,85.5 M853,91.5 L866,90 M862,77 L872,76.8 M878,78 L888,78.5"/>
<path class="p" d="M791,106 L791.5,107.8 L797,107.5 L797,105.5"/>
</g>
<g id="p53">
<path class="pb" d="M735.8,161.2 L738.6,158.4 L750.7,158.4 L756.3,164 L761.9,179.8 L760.1,184.5 L747.9,185.4 L742.4,181.7 Z"/>
<path class="p" d="M740,162 L743.3,164 L750.7,161.2 L757.3,179.8 L749.8,182.6 L745,180 Z M738,160.5 L744,178 L749,184.5 M752.5,159.5 L759,180.5 M743.3,164 L748,178.5 L749.8,182.6"/>
<path class="pt" d="M740,166 L745.5,164.5 M741.5,170 L747,168.5 M743,174 L748.3,172.5 M744.5,178 L749.5,176.5 M751.5,163 L756,161.5 M753.5,168 L758,166.5 M755,173 L760,171.5 M757,178 L761.5,176.5"/>
<path class="p" d="M750.7,158.4 L809.9,140.4 L849,132 L860.2,127.3 L875.1,127.3 L888.2,130.1 M888.2,141.3 L873.3,140.4 L864,142.2 L845.3,151.6 L830.4,156.2 L824.3,156.5 L816.9,161.2 L809.4,162.1 L768.4,170.5 L762.9,167.7 L758,166"/>
<path class="p" d="M890,127.3 L894.7,126.4 Q899,128 900.3,132.9 L900.3,139.4 L895.6,142.2 L890,141.3 Q887,135 890,127.3Z M888.2,130.1 L888.2,141.3 M884,129.3 L884,141 M894.7,126.4 Q892,134 895.6,142.2"/>
<path class="p" d="M756,161.5 L810,144 L849,135.5 L860,131 L875,131 L884,132.5 M758,166 L808,151 L813,149.5 M760,171 L806,160 L813,158.5 L818,156 L845,148 L864,138.5 L873,136.5 L884,137"/>
<path class="p" d="M809.9,140.4 Q812,150 813,158.5 M816,139.3 Q818,148 818,156 M828,136.5 L830,152.5 M831,136 L833,151.5 M849,132 L852,146 M860.2,127.3 L866,140 M875.1,127.3 L873.3,140.4 M813,149.5 L829,146 M764,169 L768.4,170.5 M790,165.5 L791,167.5 L800,165.5"/>
</g>
<g id="p13">
<path class="p" d="M659.6,133 L663.5,127.6 L669.7,124.5 L682.1,122.2 L688.3,116.7 L697.6,112.9 L703.9,110.5 L707.3,114.4 L707,119.1 L700.7,119.8 L696.1,120.6 L689.9,128.4 L671.2,134.6 L669.7,136.9 L675.9,147.8 L680.6,161.8 L682.1,175.7 L679.8,182 L672.8,184.3 M659.6,133 L660.7,141.6 L666.6,157.1 L667.4,169.5"/>
<path class="p" d="M663,132 L668,128 L683,125 L690,119 L698,116 M666,135 L672,131 L687,126.5 L693,120 M663,136 L669,152 L671,168 M668,137 L674,153 L676.5,168 L676,181 M671,168 L682,166 M666.6,157.1 L678,154 M697.6,112.9 L699,119.5 M703.9,110.5 L702,115 L707,116 M682.1,122.2 L685,127.5 M671.2,134.6 L669,129"/>
<ellipse class="pb" cx="665.3" cy="179" rx="4.6" ry="6.6" transform="rotate(-32 665.3 179)"/>
<ellipse class="p" cx="666.3" cy="178.6" rx="2.8" ry="4.8" transform="rotate(-32 666.3 178.6)"/>
<path class="p" d="M682.1,164.1 L698.4,163.3 M682.1,168 L694.5,166.4 L698.4,163.3 M668,172 L672.5,170.5 M669,186.5 L672.8,184.3"/>
</g>

<g id="p104b"><ellipse class="f" cx="1028.6" cy="38.6" rx="2.6" ry="2" transform="rotate(35 1028.6 38.6)"/></g>
<g id="p28">
<path class="p" d="M928.9,64.3 L934.5,51.2 L937.3,49.4 L957.8,47.5 L958.7,43.8 L963.4,42.9 L998.8,39.1 L1006.2,41.9 L1011.8,45.6 L1021.1,48.8 L1047.2,45.6 L1052.8,40.1 L1052.8,35.4 L1095.6,32.6 L1100.3,34.5 L1100.9,41.9 L1093.8,48.4 L1086.3,50.3 L1112.4,55.9 L1112.4,61.5 L1103.1,76.4 L1095.6,73.6 L1082.6,67.1 L1067.7,63.4 L1015.5,67.1 L1009.9,67.1 L989.4,59.6 L976.4,57.8 L974.5,63.4 L968.9,67.1 L937.3,71.7 L933.5,69.9 Z"/>
<path class="p" d="M935.4,53.1 L972.7,52.2 L974.5,55.9 L976.4,57.8 M933.5,69.9 L936.5,56 L935.4,53.1 M936.5,56 L972,54.5 M937.3,71.7 L938.5,67 M963.4,45.6 L1001.5,41.9 L1004.3,50.3 L975,52.2 M963.4,42.9 L963.4,49 M958,47.5 L962,50.5 L962.5,52.5 M966,44.5 L966.5,49.5 L1001,46 M989.4,59.6 L992,52 M1009.9,67.1 L1012,60 L1067,55.5 L1086.3,50.3 M1012,60 L990,53.5 M1011.8,45.6 L1006,51 M1021.1,48.8 L1020,53 L1063,49 M1047.2,45.6 L1063,49 L1093.8,48.4 M1016,62.5 L1068,58.5 L1085,61 L1101,69.5 M1070,52.5 L1090,54.5 L1108,59.5"/>
<path class="p" d="M1052.8,40.1 L1099,37 M1055,35.3 L1055.5,39.8 M1052.8,40.1 L1058,44.5 L1093.8,42.5 L1100.9,41.9 M1058,44.5 L1057,47.5 M1093,33 L1094,42.5"/>
<path class="pt" d="M1049,44 L1053,48 M1051,42 L1056,47 M1053,40.5 L1058,46 M1047.5,45.6 L1051.5,49"/>
<path class="p" d="M966,64.5 Q964.5,61 968,58.5 Q972,56.5 975.5,58"/>
</g>
<g id="p73">
<path class="p" d="M953.2,135.6 L958.6,134 L964.1,123.1 L971.1,113.8 L980.4,108.4 L1048.7,94.4 L1089.1,85.9 L1098.4,85.9 L1104.6,91.3 L1112.4,100.6 L1118.6,100.6 L1123.2,103.7 L1118.6,105.3 L1110.8,103.7 L1101.5,92.9 L1095.3,89.8 L1089.1,89.8 L1058,97.5 L1048.7,99.8 L986.6,112.3 L980.4,113.8 L974.2,118.5 L966.4,132.5 L961.7,137.1 L954.8,138.7 Z"/>
<path class="pb" d="M981,110.8 L1048,97 L1089,87.8"/>
<path class="pt" style="stroke-width:1.2;stroke-dasharray:2 1.5" d="M984,111.8 L1045,99.2"/>
<path class="p" d="M1047.9,96 L1059.6,93.6 L1061.9,97.5 L1050.2,100.6 Z M961,129 L969,116 L978,111 M1118.6,100.6 L1118.6,105.3"/>
<circle class="f" cx="968.5" cy="120.5" r=".8"/>
<path class="p" d="M1052.6,101.4 L1058,100.6 L1078.2,121.6 L1082.1,126.2 L1082.1,132.5 L1085.2,134.8 L1086,140.2 L1072,143.3 L1070.4,138.7 L1072.8,127.8 L1068.9,121.6 Z"/>
<path class="p" d="M1072.8,127.8 L1082.1,126.2 M1073,133 L1082,131.5 M1072,136 L1078,135 L1079,141.5 M1078,135 L1085.2,134.8 M1075,128 L1076,135"/>
<circle class="f" cx="1068" cy="113.5" r=".7"/><circle class="f" cx="1072" cy="118.5" r=".7"/>
<path class="p" d="M957.1,105.5 V122.4"/><path class="f" d="M956,103 L958.2,103 L957.6,105.6 L956.6,105.6Z"/>
</g>
<g id="p34">
<path class="p" d="M1143.3,83.3 L1149.9,66.2 L1156.5,65.4 L1164.4,68.8 L1171,60.9 L1181.6,59.6 L1200.1,82 L1196.1,86 L1182.9,91.8 L1175,92.6 L1161.8,88.1 L1151.2,90.7 L1144.6,88.6 Z"/>
<path class="p" d="M1145.5,83.5 L1151.5,67.5 M1147.5,84.5 L1153.5,68 L1164.4,68.8 M1144,86 L1151,87.5 L1161.8,85 L1175,89.5 L1183,88.5 M1147.5,84.5 L1161.8,82.5"/>
<path class="pb" d="M1171,60.9 L1190.8,88.6 M1174.5,60.5 L1193.5,87.2 M1178,60 L1196.1,86 M1181.6,59.6 L1200.1,82"/>
<path class="p" d="M1164.4,68.8 L1171,75 L1182.9,91.8 M1190.8,88.6 L1196.1,86"/>
</g>
<g id="p43">
<ellipse class="pb" cx="1103.3" cy="162.2" rx="5.2" ry="8" transform="rotate(-28 1103.3 162.2)"/>
<ellipse class="p" cx="1104.3" cy="161.8" rx="3.6" ry="6.2" transform="rotate(-28 1104.3 161.8)"/>
<ellipse class="p" cx="1105.3" cy="161.4" rx="2.4" ry="4.8" transform="rotate(-28 1105.3 161.4)"/>
<path class="p" d="M1102,154 L1114.3,149.3 L1127.5,146.6 L1138,141.4 L1156.5,136.1 L1175,134 L1188.2,136.1 L1194.8,140 M1109,170.4 L1132.8,163.8 L1156.5,154.6 L1169.7,154.6 L1177.6,157.2"/>
<path class="p" d="M1177.6,141.4 L1190.8,137.4 L1196.1,141.4 L1196.1,157.2 L1184.2,163.8 L1177.6,157.2 Z"/>
<path class="pb" d="M1181,143.5 L1191,140.5 L1192.5,155.5 L1183.5,160 Z"/>
<path class="p" d="M1183,147 L1191,151 M1186,142 L1187,158 M1183.5,154 L1190.5,146"/>
<path class="p" d="M1110,151 Q1113,159 1113,168.5 M1114.3,149.3 Q1118,158 1117,167.5 M1127.5,146.6 Q1131,155 1130,164.5 M1138,141.4 Q1142,151 1140,160.5 M1118,153 L1138,146 L1157,140.5 L1175,138.5 M1120,161 L1140,154 L1157,148.5 L1173,147 M1175,134 Q1172,144 1177.6,157.2"/>
</g>
<g id="p58">
<path class="p" d="M970.2,186.6 L973.5,183.4 L1015.9,173 L1020.8,174.1 L1024.6,182.3 L1020.8,187.2 L1008.3,190.4 L1006.1,188.3 L992,186.1 L988.7,188.8 L974.6,191.5 L971.3,189.3 Z"/>
<path class="pb" d="M973,186 L1016,175.2 L1020,176.5 M975,189 L990,185.5 L1014,179.5"/>
<path class="p" d="M974.6,191.5 L976,187.5 L981,186.2 L981.5,190 M1005,181 L1010,183.5 L1016,180 M1020.8,174.1 L1022,181 L1008.3,190.4"/>
<path class="pb" d="M988.7,188.8 L987.1,207.8 L990.9,212.7 L1000.7,213.8 L1006.1,210 L1008.3,190.4"/>
<path class="p" d="M990.9,190.4 L1005,190.4 L1003.9,208.9 L990.9,207.8 Z M993,193 L992.5,206 M1024.6,182.3 L1006.1,210 M989,209.5 L1001,211.5"/>
</g>

<g id="p200">
<path class="p" d="M771.9,292.6 L792.4,280.5 L835.2,270.2 L904.2,259 L990,237.4 L1094.9,216.6 L1178.6,199.9 L1262.3,185.4 L1291.6,181.8"/>
<path class="pb" d="M774.7,294.5 L794.2,284.2 L835.2,274 L906,261 L990,240.2 L1094.9,219.2 L1178.6,202.4 L1262.3,187.5 L1291.6,183.4"/>
<path class="p" d="M771.9,292.6 L774.7,294.5 M1291.6,181.8 V183.4"/>
</g>
<g id="p67">
<!-- tube -->
<path class="p" d="M814.7,319.6 L850.1,312.2 M815.6,324.3 L848.3,316.8 M896.7,302.9 L922.8,297.3 M900.4,310.3 L924.7,303.8 M954,290.3 L990,282 L1042.2,271.8 M1066,266.5 L1105,258.5 M1137,251.5 L1195,240.2 M958.2,296.3 L990,291.4 L1045.9,279.3 M1070,274.5 L1120.4,263.4 L1124,262.7 M1140,259.5 L1196.8,246.7"/>
<path class="pt" d="M1028.2,274.5 Q1030,279 1029.5,283 M1040.3,272.2 Q1042,277 1041.5,280.3 M1099.9,259.6 Q1101.5,264 1101,267.7 M1111,257.3 Q1112.5,261 1112,265.3 M1116.7,256 Q1118,260 1117.7,264 M1161.4,246.8 Q1163,251 1162.5,254.5 M1171.7,244.8 Q1173.5,249 1173,252.2 M912,299.8 Q913.5,304 913,307 M985,283.3 Q986.5,288 986,292"/>
<!-- left plate 63 -->
<path class="pb" d="M794.2,315.9 L811,313.1 L817.5,337.3 L802.6,341 Z"/>
<path class="p" d="M799.5,318.5 L807,317.2 L807.5,319.6 L800,321Z M801.5,325.5 L810,323.8 L810.8,327 L802.3,328.7Z M792.4,319.6 L795,319 L798,330.8 L795.5,331.5Z M811,313.1 L813.5,313 L819.5,336 L817.5,337.3"/>
<circle class="f" cx="811" cy="334.5" r=".8"/>
<path class="pt" d="M806.3,299.8 L810.5,299"/><path class="p" d="M810.3,298 L812.3,298.7 L811,299.9"/>
<path class="pt" d="M813.8,338.3 L832,351.3"/><path class="pb" d="M832,351 L834.5,354 M833.5,350.5 L835,352.5"/>
<!-- small bracket -->
<path class="p" d="M820.3,324.3 L829.6,321.5 L836.1,326.1 L836.1,328.9 L826.8,331.7 L825,327.1 Z M825,327.1 L836.1,326.1"/>
<circle class="f" cx="829" cy="329" r=".7"/><circle class="f" cx="833" cy="328" r=".7"/>
<!-- central bracket -->
<path class="p" d="M850.1,290.7 L874.3,286.1 L881.8,301.9 L857.6,306.6 Z M866,288 L871.5,303.8 M858,289.3 L864,305.3 M862,288.5 L868,304.5 M870,287 L877,302.8"/>
<circle class="p" cx="858" cy="294" r="1"/><circle class="p" cx="866.5" cy="299.5" r="1"/><circle class="p" cx="876" cy="296.5" r="1"/>
<path class="pb" d="M844.5,311.2 L857.6,306.6 L885.5,301.9 L898.6,300.1 L900.4,314 L906,315 L905.1,318.7 L898.6,320.6 L893,326.1 L887.4,325.2 L865,328.9 L863.2,332.7 L852,334.5 L846.4,331.7 L844.5,323.4 L850,322 L848.5,312.5"/>
<path class="p" d="M857.6,306.6 L860,329 M885.5,301.9 L888,325 M852,310 L854,333 M861,310.5 L886,306.5 M861.5,316 L886.5,311.5 M862,321 L887,316.5 M862.5,325.5 L887.5,321 M892,303 L894,323 M897,302 L898.6,320.6"/>
<path class="pb" d="M847,325 L851,331.5 L858,330 L857,323.5 Z M888,305 L892.5,304.3 L894,318 L889.5,318.8Z"/>
<circle class="p" cx="855.5" cy="314" r="1.3"/><circle class="p" cx="895" cy="307" r="1.2"/><circle class="p" cx="895.5" cy="316" r="1.2"/>
<path class="p" d="M844.5,311.2 L843,313.5 L845,315"/>
<!-- right plate -->
<path class="p" d="M920.9,278.6 L934,276.8 L935.8,280.5 L948.9,277.7 L951.7,275.8 L962.8,274 L963.5,275.5 L952.5,277.5 L954.5,300.1 L948.9,301 L928.4,306.6 Z"/>
<path class="p" d="M931,292.6 L945.1,288.9 L946.1,293.5 L931.2,297.3 Q929.5,295 931,292.6Z M949,278 L951,300.5 M943.3,297.3 L949.8,296.3 L949.8,308.4 L945.1,309.4 Z M945,303 L949.5,302"/>
<circle class="f" cx="927" cy="284" r=".7"/><circle class="f" cx="944" cy="282" r=".7"/><circle class="f" cx="932" cy="302" r=".7"/>
<path class="pb" d="M951.7,275.8 L954.5,300.1 M962,272.5 L961,275"/>
<!-- clamp -->
<path class="pb" d="M965.6,287.9 L975,285.2 L979.6,299.1 L970.3,302.9 Z"/>
<path class="p" d="M968,288 L972.5,301.5 M972.5,286.5 L977,300 M966.5,294 L977.5,291"/>
<path class="p" d="M996.4,281.4 L1002,279.6 L1003,282.5 L998.2,285.2 Z"/>
<!-- bracket A -->
<path class="p" d="M1043.1,264.4 L1047.8,260.7 L1063.6,257.5 L1066,263.4 L1051.5,268.1 L1044,270.9 Z"/>
<circle class="f" cx="1050" cy="263.8" r=".7"/><circle class="f" cx="1060.5" cy="261.5" r=".7"/>
<path class="pb" d="M1044,270.9 L1045.9,279.3 L1053.4,281.1 L1070.1,277.4 L1067.3,272.8 L1054,275.5 L1051.5,268.1"/>
<path class="p" d="M1046,272.5 L1052,271 L1056,274.5 M1048,277 L1055,278.5 L1068,275.5 M1058,266.5 L1061,273.5 M1063,265 L1067.3,272.8"/>
<!-- bracket B -->
<path class="p" d="M1105.5,243.9 L1118.6,242.6 L1120.4,248.5 L1126,251.3 L1131.6,252.3 L1137.2,259.7 L1135.3,266.2 L1126,268.1 L1123.2,259.7 L1118.6,253.2 L1113,244.8"/>
<path class="pb" d="M1105.5,243.9 L1113,243.4 M1123.2,259.7 L1126,268.1 L1135.3,266.2"/>
<path class="p" d="M1125,255 L1134,253.5 M1126,259.5 L1136,258 M1127,263.5 L1135.5,262 M1128,254.5 L1130.5,267 M1139.1,258.8 L1144.6,257.9 L1146.5,260.6 L1140.9,262.5 Z"/>
<!-- right end -->
<path class="p" d="M1188.4,237.4 L1195,235.5 L1202.4,233.6 L1221,233.6 M1202.4,235.5 L1221,234.6 M1196.8,239.2 L1201.5,259.7 L1215.5,257.9"/>
<path class="pb" d="M1195,236 L1199.5,256.5 M1188.4,237.4 L1196,236.8"/>
<path class="pt" d="M1197,244 L1200,243 M1198,248 L1201,247 M1199,252 L1202,251 M1200,256 L1203,255"/>
<circle class="p" cx="1205" cy="233.8" r="1.5"/><circle class="p" cx="1221" cy="234" r="1.2"/>
<!-- pin above 110b -->
<path class="p" d="M943.2,331 V348.8"/><path class="pb" d="M943.2,327.5 V331.5"/>
</g>
<g id="pbr">
<path class="p" d="M845.6,375.1 L858.1,371.7 L859.4,380.9 L865,389.3 L858.9,392.8 L851.3,392.8 L846.7,384 Z M847.4,384.7 L859.4,381.3 M848,376 L849,384.3 M850,386.5 L860,383.5 L863.5,389"/>
<circle class="f" cx="852.5" cy="376.2" r=".7"/><circle class="f" cx="856" cy="388.5" r=".7"/>
<path class="p" d="M896.4,364.1 L909.4,360.2 L910.2,372.5 L916.3,380.1 L905.6,382.4 L897.9,374.8 Z M898,374.5 L910.2,371.2 M900,372 L909,369.5"/>
<circle class="f" cx="900.5" cy="365.8" r=".7"/><circle class="f" cx="906.5" cy="376.5" r=".7"/>
<path class="p" d="M936.6,353.7 L949.2,350.6 L950,361 L956.1,369.4 L945.4,372.5 L937.7,364.1 Z M938,364.3 L950,361 M939,355 L940,364 M941,366.5 L951,363.5 L954.5,369 M947.5,351.5 L948.5,361"/>
<circle class="f" cx="943" cy="355.2" r=".7"/><circle class="f" cx="947" cy="367.5" r=".7"/>
<path class="p" d="M1187.5,306.3 L1200.5,303.5 L1202.4,315.6 L1207.1,322.1 L1198.7,325.9 L1189.4,317.5 Z M1189.6,317.6 L1202.4,315.2 M1190,307.5 L1191.5,317 M1193,319.5 L1203,317 L1206,322"/>
<circle class="f" cx="1194.5" cy="308.5" r=".7"/><circle class="f" cx="1199" cy="321" r=".7"/>
</g>
<!--END-->
</svg>
</body></html>
